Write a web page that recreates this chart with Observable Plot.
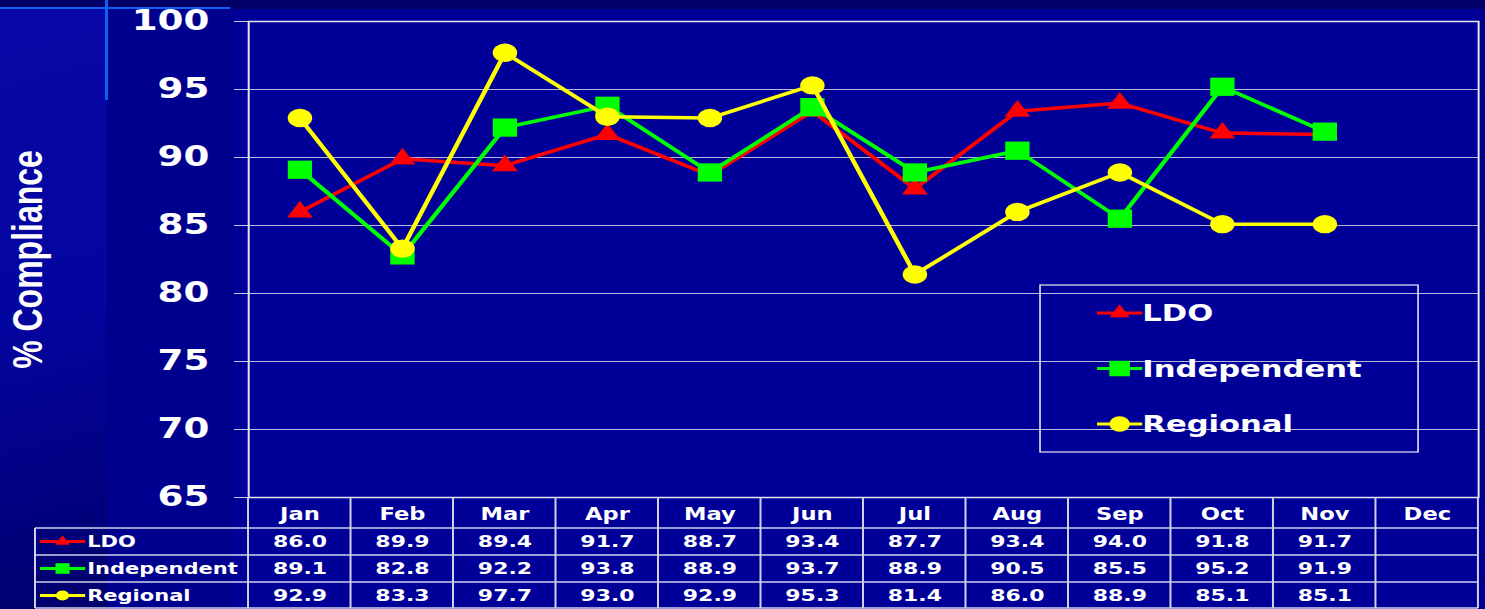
<!DOCTYPE html>
<html>
<head>
<meta charset="utf-8">
<script src="https://cdn.jsdelivr.net/npm/d3@7"></script>
<script src="https://cdn.jsdelivr.net/npm/@observablehq/plot@0.6"></script>
<style>
  html, body { margin: 0; padding: 0; background: #000099; overflow: hidden; }
  #wrap { position: relative; width: 1485px; height: 609px; overflow: hidden; background: #000099; }
  .bg { position: absolute; }
  #strip { left: 0; top: 0; width: 107px; height: 609px;
           background: linear-gradient(165deg, #0808a6 0%, #0404a0 50%, #00006c 100%); }
  #mid { left: 107px; top: 0; width: 126px; height: 609px; background: #00008e; }
  #rightedge { left: 1480px; top: 0; width: 5px; height: 609px; background: #00008e; }
  #topband { left: 0; top: 0; width: 1485px; height: 9px; background: #000068; }
  #hline { left: 0; top: 7px; width: 230px; height: 2px; background: #1060f0; }
  #vline { left: 105px; top: 0; width: 3px; height: 100px; background: #1060f0; }
  #chart { position: absolute; left: 0; top: 0; }
</style>
</head>
<body>
<div id="wrap">
  <div class="bg" id="strip"></div>
  <div class="bg" id="mid"></div>
  <div class="bg" id="rightedge"></div>
  <div class="bg" id="topband"></div>
  <div class="bg" id="hline"></div>
  <div class="bg" id="vline"></div>
  <div id="chart"></div>
</div>
<script>
// ---- data ----
const months = ["Jan","Feb","Mar","Apr","May","Jun","Jul","Aug","Sep","Oct","Nov","Dec"];
const seriesNames = ["LDO","Independent","Regional"];
const ldo         = [86.0, 89.9, 89.4, 91.7, 88.7, 93.4, 87.7, 93.4, 94.0, 91.8, 91.7, null];
const independent = [89.1, 82.8, 92.2, 93.8, 88.9, 93.7, 88.9, 90.5, 85.5, 95.2, 91.9, null];
const regional    = [92.9, 83.3, 97.7, 93.0, 92.9, 95.3, 81.4, 86.0, 88.9, 85.1, 85.1, null];
const yTicks = [65, 70, 75, 80, 85, 90, 95, 100];
const gridValues = [70, 75, 80, 85, 90, 95];
const yTitle = "% Compliance";

// ---- styles ----
const seriesColors = ["#ff0000", "#00ff00", "#ffff00"];
const seriesSymbols = ["triangle", "square", "circle"];
const dotR = {triangle: 7.2, square: 10.3, circle: 9.2};
const legendArea = {triangle: 97, square: 240, circle: 186};
const tableArea = {triangle: 52, square: 112, circle: 80};
const symbolMap = {triangle: d3.symbolTriangle, square: d3.symbolSquare, circle: d3.symbolCircle};
const FONT = "DejaVu Sans, Verdana, sans-serif";
const W = 1116, H = 609;
const ML = 186.4, MR = 5.3, MT = 21, MB = 112;

const seriesValues = [ldo, independent, regional];
const data = seriesNames.map((name, si) =>
  months.map((m, i) => ({series: name, month: m, value: seriesValues[si][i]}))
        .filter(d => d.value != null));

function tableGrid(index, scales, values, dim) {
  const x = scales.x;
  const step = x(months[1]) - x(months[0]);
  const L = dim.marginLeft, R = dim.width - dim.marginRight, T = dim.height - dim.marginBottom;
  const rowsY = [T + 31, T + 58, T + 85, T + 111];
  const tableLeft = 26.3;
  const g = d3.create("svg:g").attr("stroke", "#d0d0ec").attr("stroke-width", 1.5);
  rowsY.forEach(y => g.append("line").attr("x1", tableLeft).attr("x2", R).attr("y1", y).attr("y2", y));
  g.append("line").attr("x1", tableLeft).attr("x2", tableLeft).attr("y1", T + 31).attr("y2", T + 111);
  g.append("line").attr("x1", L).attr("x2", L).attr("y1", T).attr("y2", T + 111);
  months.forEach(m => {
    const xb = x(m) + step / 2;
    g.append("line").attr("x1", xb).attr("x2", xb).attr("y1", T).attr("y2", T + 111);
  });
  return g.node();
}

function glyph(g, cx, cy, half, color, sym, area, lw) {
  g.append("line").attr("x1", cx - half).attr("x2", cx + half).attr("y1", cy).attr("y2", cy)
    .attr("stroke", color).attr("stroke-width", lw);
  g.append("path").attr("d", d3.symbol(symbolMap[sym], area)())
    .attr("transform", `translate(${cx},${cy})`).attr("fill", color);
}

function legendMark(index, scales, values, dim) {
  const T = dim.height - dim.marginBottom;
  const g = d3.create("svg:g").attr("text-anchor", "start");
  // legend box
  g.append("rect").attr("x", 781.6).attr("y", 285).attr("width", 284.1).attr("height", 167)
    .attr("fill", "none").attr("stroke", "#e6e6f4").attr("stroke-width", 1.2);
  const legY = [313, 368.5, 424];
  seriesNames.forEach((name, si) => {
    glyph(g, 841.4, legY[si], 17, seriesColors[si], seriesSymbols[si], legendArea[seriesSymbols[si]], 3);
    g.append("text").attr("x", 858.5).attr("y", legY[si]).attr("dy", "0.36em")
      .attr("text-anchor", "start")
      .attr("fill", "white").attr("font-family", FONT).attr("font-weight", "bold")
      .attr("font-size", 23).text(name);
  });
  // table row labels
  seriesNames.forEach((name, si) => {
    const cy = T + 44.5 + si * 27;
    glyph(g, 47, cy, 17, seriesColors[si], seriesSymbols[si], tableArea[seriesSymbols[si]], 3);
    g.append("text").attr("x", 65.5).attr("y", cy).attr("dy", "0.36em")
      .attr("text-anchor", "start")
      .attr("fill", "white").attr("font-family", FONT).attr("font-weight", "bold")
      .attr("font-size", 15.8).text(name);
  });
  return g.node();
}

const marks = [
  Plot.ruleY(gridValues, {stroke: "#b8b8dc", strokeWidth: 1.2}),
  Plot.frame({stroke: "#e6e6f4", strokeWidth: 1.5}),
  Plot.axisY({ticks: yTicks, tickSize: 10.5, tickPadding: 19, label: null,
              fontSize: 28, fontWeight: "bold", fontFamily: FONT, fill: "white", stroke: "#c8c8e4"}),
  Plot.axisX({tickSize: 0, tickPadding: 10, label: null,
              fontSize: 17, fontWeight: "bold", fontFamily: FONT, fill: "white"}),
  Plot.text([yTitle], {frameAnchor: "left", dx: -165.4, rotate: -90, fontSize: 32, fontWeight: "bold",
              fontFamily: "Liberation Sans, Arial, sans-serif", fill: "white",
              textAnchor: "middle", lineAnchor: "middle"}),
  tableGrid,
  legendMark
];
data.forEach((rows, si) => {
  marks.push(Plot.line(rows, {x: "month", y: "value", stroke: seriesColors[si], strokeWidth: 3.5}));
  marks.push(Plot.dot(rows, {x: "month", y: "value", symbol: seriesSymbols[si],
                             r: dotR[seriesSymbols[si]], fill: seriesColors[si], stroke: "none"}));
  marks.push(Plot.text(rows, {x: "month", text: d => d.value.toFixed(1), frameAnchor: "bottom",
                              dy: 44.5 + si * 27, lineAnchor: "middle",
                              fontSize: 16.5, fontWeight: "bold", fontFamily: FONT, fill: "white"}));
});

const svg = Plot.plot({
  width: W, height: H,
  marginLeft: ML, marginRight: MR, marginTop: MT, marginBottom: MB,
  style: {background: "transparent", color: "white", overflow: "visible"},
  x: {type: "point", domain: months, padding: 0.5, round: false},
  y: {domain: [65, 100]},
  marks
});
svg.setAttribute("width", 1485);
svg.setAttribute("height", 609);
svg.setAttribute("preserveAspectRatio", "none");
svg.style.width = "1485px";
svg.style.height = "609px";
svg.style.maxWidth = "none";
document.getElementById("chart").appendChild(svg);
</script>
</body>
</html>
